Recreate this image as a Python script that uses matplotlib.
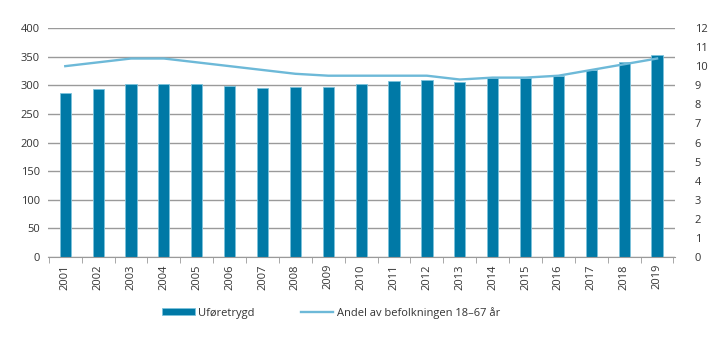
import numpy as np
import matplotlib
matplotlib.use('Agg')
import matplotlib.pyplot as plt
from matplotlib.patches import Patch
from matplotlib.lines import Line2D

plt.rcParams['font.family'] = ['Open Sans', 'DejaVu Sans']

aar = [str(a) for a in range(2001, 2020)]
uforetrygd = [286, 293, 302, 303, 302, 299, 295, 297, 297, 302, 307, 310, 306, 313, 313, 316, 327, 341, 353]
andel = [10.0, 10.2, 10.4, 10.4, 10.2, 10.0, 9.8, 9.6, 9.5, 9.5, 9.5, 9.5, 9.3, 9.4, 9.4, 9.5, 9.8, 10.1, 10.4]

bar_farge = '#0079a6'
linje_farge = '#6db9d8'
tekst = '#333333'

fig = plt.figure(figsize=(7.19, 3.41), dpi=100)
ax1 = fig.add_axes([0.067, 0.246, 0.872, 0.672])
x = np.arange(len(aar))

# grid
for v in range(0, 401, 50):
    ax1.axhline(v, color='#9a9a9a', linewidth=1.0, zorder=0)

ax1.bar(x, uforetrygd, width=0.34, color=bar_farge, edgecolor='#7cc3dc', linewidth=0.6, zorder=2)
ax1.set_ylim(0, 400)
ax1.set_xlim(-0.52, 18.55)
ax1.set_yticks(range(0, 401, 50))
ax1.set_xticks(x)
ax1.set_xticklabels(aar, rotation=90)
ax1.set_xticks(np.arange(-0.5, 19, 1), minor=True)
ax1.tick_params(axis='x', which='major', length=0, pad=5)
ax1.tick_params(axis='x', which='minor', length=4, color='#9a9a9a')
ax1.tick_params(axis='y', length=0, pad=6)
ax1.tick_params(labelsize=8, labelcolor=tekst)
for s in ['top', 'right', 'left']:
    ax1.spines[s].set_visible(False)
ax1.spines['bottom'].set_color('#9a9a9a')

ax2 = ax1.twinx()
ax2.plot(x, andel, color=linje_farge, linewidth=1.7, zorder=3)
ax2.set_ylim(0, 12)
ax2.set_yticks(range(0, 13))
ax2.tick_params(axis='y', length=0, pad=14, labelsize=8, labelcolor=tekst)
for s in ax2.spines.values():
    s.set_visible(False)

handles = [Patch(facecolor=bar_farge, edgecolor='#7cc3dc', linewidth=0.6),
           Line2D([0], [0], color=linje_farge, linewidth=1.7)]
fig.legend(handles, ['Uføretrygd', 'Andel av befolkningen 18–67 år'],
           loc='center left', bbox_to_anchor=(0.226, 0.083), ncol=2, frameon=False,
           fontsize=8, handlelength=2.9, handleheight=0.6, columnspacing=4.2,
           handletextpad=0.3, labelcolor=tekst, borderpad=0, borderaxespad=0)

fig.savefig('out.png', dpi=100)
